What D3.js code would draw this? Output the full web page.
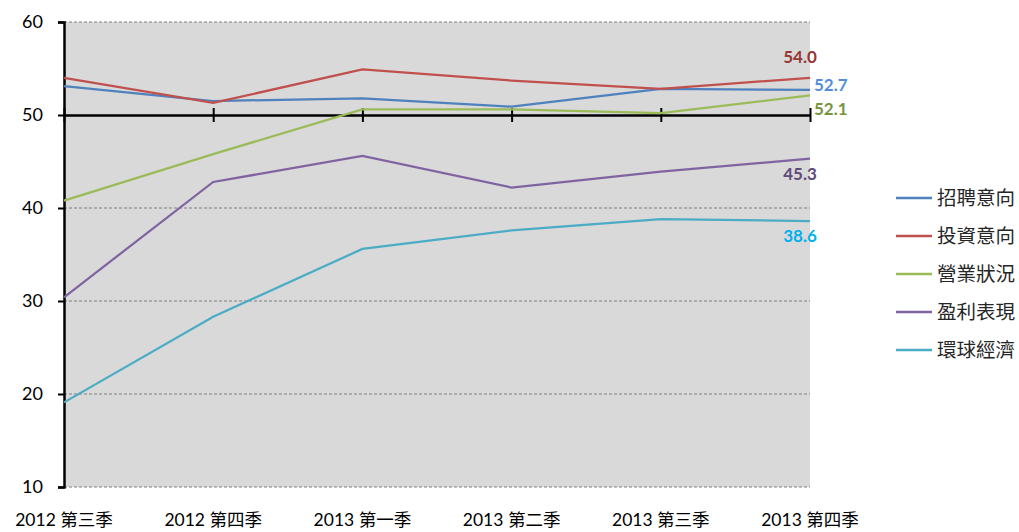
<!DOCTYPE html>
<html>
<head>
<meta charset="utf-8">
<script src="https://cdn.jsdelivr.net/npm/d3@7"></script>
<style>
  body { margin: 0; background: #fff; }
  svg text { font-family: "Lato", "Noto Sans CJK TC", sans-serif; }
</style>
</head>
<body>
<div id="chart"></div>
<script>
// quarters on the x axis
const quarters = ["2012 第三季", "2012 第四季", "2013 第一季", "2013 第二季", "2013 第三季", "2013 第四季"];

// series values
const hiring     = [53.1, 51.5, 51.8, 50.9, 52.8, 52.7];
const investment = [54.0, 51.3, 54.9, 53.7, 52.8, 54.0];
const business   = [40.8, 45.8, 50.6, 50.6, 50.2, 52.1];
const profit     = [30.4, 42.8, 45.6, 42.2, 43.9, 45.3];
const globalEcon = [19.1, 28.3, 35.6, 37.6, 38.8, 38.6];

const seriesNames = ["招聘意向", "投資意向", "營業狀況", "盈利表現", "環球經濟"];
const yTicks = [10, 20, 30, 40, 50, 60];

// dx/dy = where the end label sits relative to the last point
const series = [
    { name: seriesNames[0], values: hiring,     color: "#4F81BD", labelColor: "#558ED5", dx: 4,   dy: 1,   anchor: "start" },
    { name: seriesNames[1], values: investment, color: "#C0504D", labelColor: "#953735", dx: -10, dy: -15, anchor: "middle" },
    { name: seriesNames[2], values: business,   color: "#9BBB59", labelColor: "#77933C", dx: 4,   dy: 20,  anchor: "start" },
    { name: seriesNames[3], values: profit,     color: "#8064A2", labelColor: "#604A7B", dx: -10, dy: 21,  anchor: "middle" },
    { name: seriesNames[4], values: globalEcon, color: "#4BACC6", labelColor: "#00B0F0", dx: -10, dy: 21,  anchor: "middle" }
];

const margin = { top: 22, left: 64 };
const width = 746, height = 465;

const svg = d3.select("#chart").append("svg")
    .attr("width", 1019)
    .attr("height", 532);

const g = svg.append("g")
    .attr("transform", `translate(${margin.left}, ${margin.top})`);

const x = d3.scalePoint().domain(quarters).range([0, width]);
const y = d3.scaleLinear().domain([10, 60]).range([height, 0]);

// plot background
g.append("rect")
    .attr("width", width)
    .attr("height", height)
    .attr("fill", "#D9D9D9");

// dashed gridlines
g.selectAll(".grid")
    .data(yTicks.filter(d => d !== 50))
    .enter()
    .append("line")
    .attr("x1", 0)
    .attr("x2", width)
    .attr("y1", d => y(d))
    .attr("y2", d => y(d))
    .attr("stroke", "#7f7f7f")
    .attr("stroke-width", 1)
    .attr("stroke-dasharray", "3,2");

// y axis
const yAxis = g.append("g")
    .call(d3.axisLeft(y).tickValues(yTicks).tickSize(6).tickPadding(15));
yAxis.select(".domain").attr("stroke", "#000").attr("stroke-width", 2.5);
yAxis.selectAll(".tick line").attr("stroke", "#000").attr("stroke-width", 2);
yAxis.selectAll("text").attr("font-size", 18).attr("fill", "#000");

// x axis crossing at 50
const xAxis = g.append("g")
    .attr("transform", `translate(0, ${y(50)})`)
    .call(d3.axisBottom(x).tickSize(0).tickFormat(""));
xAxis.select(".domain").attr("stroke", "#000").attr("stroke-width", 2.5);
xAxis.selectAll(".tick line")
    .attr("y1", -7).attr("y2", 7)
    .attr("stroke", "#000").attr("stroke-width", 2);

// category labels at the bottom
g.selectAll(".xlabel")
    .data(quarters)
    .enter()
    .append("text")
    .attr("x", d => x(d))
    .attr("y", height + 39)
    .attr("text-anchor", "middle")
    .attr("font-size", 17.5)
    .attr("fill", "#000")
    .text(d => d);

// lines
const line = d3.line()
    .x((d, i) => x(quarters[i]))
    .y(d => y(d));

g.selectAll(".series")
    .data(series)
    .enter()
    .append("path")
    .attr("fill", "none")
    .attr("stroke", d => d.color)
    .attr("stroke-width", 2.25)
    .attr("d", d => line(d.values));

// end labels
const last = quarters[quarters.length - 1];
series.forEach(s => {
    const v = s.values[s.values.length - 1];
    g.append("text")
        .attr("x", x(last) + s.dx)
        .attr("y", y(v) + s.dy)
        .attr("text-anchor", s.anchor)
        .attr("font-size", 17)
        .attr("font-weight", "bold")
        .attr("fill", s.labelColor)
        .text(v.toFixed(1));
});

// legend
const legend = svg.append("g")
    .attr("transform", "translate(896, 198)");

const items = legend.selectAll(".legend-item")
    .data(series)
    .enter()
    .append("g")
    .attr("transform", (d, i) => `translate(0, ${i * 38})`);

items.append("line")
    .attr("x1", 0).attr("x2", 36)
    .attr("stroke", d => d.color)
    .attr("stroke-width", 2.5);

items.append("text")
    .attr("x", 41)
    .attr("y", 7)
    .attr("font-size", 19.5)
    .attr("fill", "#262626")
    .text(d => d.name);
</script>
</body>
</html>
